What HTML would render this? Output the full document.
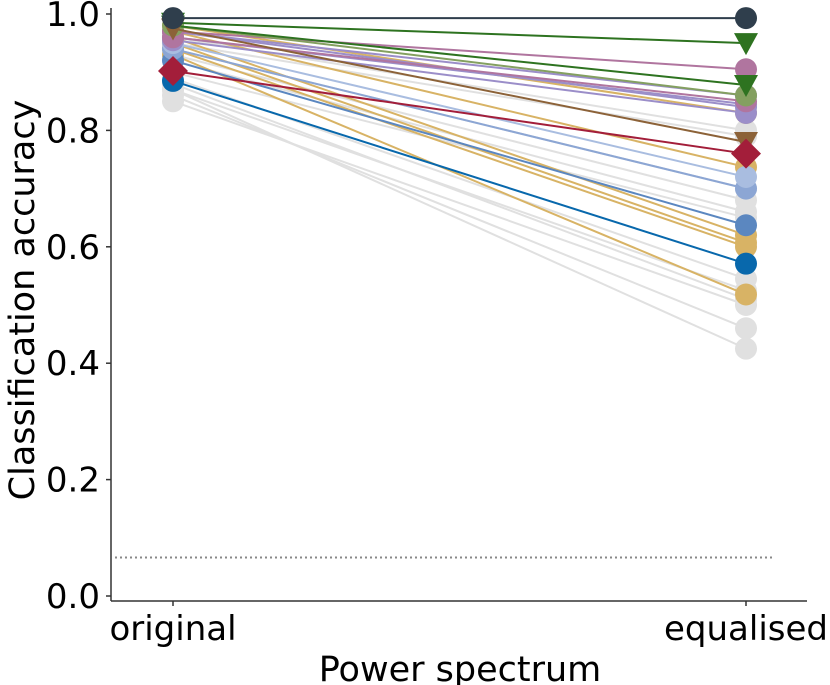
<!DOCTYPE html>
<html><head><meta charset="utf-8"><style>
html,body{margin:0;padding:0;background:#fff;}
svg{display:block;font-family:"DejaVu Sans","Liberation Sans",sans-serif;}
</style></head><body>
<svg id="chart" width="830" height="685" viewBox="0 0 830 685" xmlns="http://www.w3.org/2000/svg">
<g id="lines"></g>
<line x1="115" y1="557.5" x2="775" y2="557.5" stroke="#888" stroke-width="2" stroke-dasharray="2,3"/>
<line x1="111" y1="8" x2="111" y2="601" stroke="#333" stroke-width="1.5"/>
<line x1="111" y1="601" x2="807" y2="601" stroke="#333" stroke-width="1.5"/>
<g id="yticks"></g>
<g id="xticks"></g>
<text x="460" y="681" font-size="35" text-anchor="middle" fill="#000">Power spectrum</text>
<text transform="translate(34,300) rotate(-90)" font-size="35" text-anchor="middle" fill="#000">Classification accuracy</text>
</svg>
<script>
const categories = ["original","equalised"];
const yTickValues = [0.0,0.2,0.4,0.6,0.8,1.0];
const origValues = [0.87,0.86,0.88,0.87,0.89,0.92,0.93,0.95,0.96,0.94,0.90,0.85,
  0.93,0.94,0.95,0.96,0.97,0.98,
  0.885,0.92,0.94,0.95,
  0.97,0.96,0.955,0.97,
  0.97,0.96,0.98,
  0.985,0.98,0.975,0.902,0.993];
const eqValues = [0.425,0.46,0.51,0.525,0.545,0.66,0.68,0.79,0.80,0.70,0.65,0.50,
  0.518,0.60,0.607,0.62,0.737,0.83,
  0.571,0.637,0.70,0.72,
  0.84,0.845,0.83,0.86,
  0.905,0.85,0.86,
  0.95,0.878,0.78,0.76,0.993];
const seriesColors = ["#e0e0e0","#e0e0e0","#e0e0e0","#e0e0e0","#e0e0e0","#e0e0e0","#e0e0e0","#e0e0e0","#e0e0e0","#e0e0e0","#e0e0e0","#e0e0e0",
  "#d8b365","#d8b365","#d8b365","#d8b365","#d8b365","#d8b365",
  "#0868ac","#5b87c0","#8ca6d4","#a9bde0",
  "#9b8ec9","#9b8ec9","#9b8ec9","#9b8ec9",
  "#b0759f","#b0759f","#84a060",
  "#2e7320","#2e7320","#8c6238","#a31e3a","#2f3e4c"];
const seriesMarkers = ["o","o","o","o","o","o","o","o","o","o","o","o",
  "o","o","o","o","o","o","o","o","o","o","o","o","o","o","o","o","o",
  "v","v","v","D","o"];

function xScale(i){return 173 + i*573;}
function yScale(v){return 596 - 582*v;}
const NS="http://www.w3.org/2000/svg";
const g=document.getElementById('lines');
function marker(type,cx,cy,color){
  let el;
  if(type==="o"){el=document.createElementNS(NS,'circle');el.setAttribute('cx',cx);el.setAttribute('cy',cy);el.setAttribute('r',11);}
  else if(type==="v"){el=document.createElementNS(NS,'polygon');el.setAttribute('points',`${cx-12},${cy-10} ${cx+12},${cy-10} ${cx},${cy+12}`);}
  else {el=document.createElementNS(NS,'polygon');el.setAttribute('points',`${cx},${cy-15} ${cx+15},${cy} ${cx},${cy+15} ${cx-15},${cy}`);}
  el.setAttribute('fill',color);
  
  
  return el;
}
for(let i=0;i<origValues.length;i++){
  const c=seriesColors[i];
  const x1=xScale(0),y1=yScale(origValues[i]),x2=xScale(1),y2=yScale(eqValues[i]);
  const l=document.createElementNS(NS,'line');
  l.setAttribute('x1',x1);l.setAttribute('y1',y1);l.setAttribute('x2',x2);l.setAttribute('y2',y2);
  l.setAttribute('stroke',c);l.setAttribute('stroke-width',2);
  
  
  g.appendChild(l);
  g.appendChild(marker(seriesMarkers[i],x1,y1,c));
  g.appendChild(marker(seriesMarkers[i],x2,y2,c));
}
const yt=document.getElementById('yticks');
yTickValues.forEach(v=>{
  const y=yScale(v);
  const t=document.createElementNS(NS,'line');
  t.setAttribute('x1',106);t.setAttribute('x2',111);t.setAttribute('y1',y);t.setAttribute('y2',y);
  t.setAttribute('stroke','#333');t.setAttribute('stroke-width',1.5);
  
  
  yt.appendChild(t);
  const tx=document.createElementNS(NS,'text');
  tx.setAttribute('x',100);tx.setAttribute('y',y+12);tx.setAttribute('font-size',34);tx.setAttribute('text-anchor','end');
  tx.textContent=v.toFixed(1);
  
  
  yt.appendChild(tx);
});
const xt=document.getElementById('xticks');
categories.forEach((c,i)=>{
  const x=xScale(i);
  const t=document.createElementNS(NS,'line');
  t.setAttribute('x1',x);t.setAttribute('x2',x);t.setAttribute('y1',601);t.setAttribute('y2',606);
  t.setAttribute('stroke','#333');t.setAttribute('stroke-width',1.5);
  
  
  xt.appendChild(t);
  const tx=document.createElementNS(NS,'text');
  tx.setAttribute('x',x);tx.setAttribute('y',640);tx.setAttribute('font-size',34);tx.setAttribute('text-anchor','middle');
  tx.textContent=c;
  
  
  xt.appendChild(tx);
});
</script>
</body></html>
